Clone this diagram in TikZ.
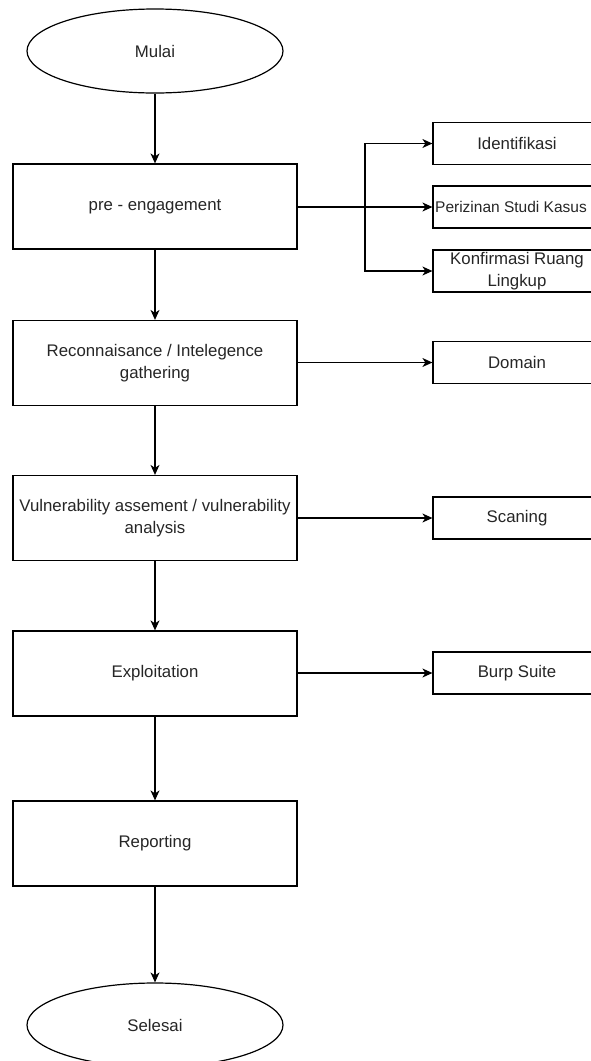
\documentclass[tikz,border=0pt]{standalone}
\usepackage{fontspec}
\setmainfont{Liberation Sans}
\usetikzlibrary{shapes.geometric,arrows.meta}
\tikzset{
  base/.style={draw=black, line width=1.2pt, text=black!85, font=\fontsize{16.8}{21.5}\selectfont, align=center, inner sep=0pt},
  procbox/.style={base, rectangle, minimum width=284pt, minimum height=85pt},
  sidebox/.style={base, rectangle, minimum width=168pt, minimum height=42pt},
  term/.style={base, ellipse, minimum width=256pt, minimum height=84pt},
  arr/.style={draw=black, line width=1.2pt, -{Stealth[length=10pt,width=9pt,inset=3pt]}},
  ln/.style={draw=black, line width=1.2pt}
}
\begin{document}
\begin{tikzpicture}[x=1pt,y=-1pt]
\useasboundingbox (0,0) rectangle (591,1061);
\clip (0,0) rectangle (591,1061);
\fill[white] (0,0) rectangle (591,1061);

\node[term] (mulai) at (155,51) {Mulai};
\node[procbox] (pre) at (155,206.5) {pre - engagement};
\node[procbox] (recon) at (155,363) {Reconnaisance / Intelegence\\gathering};
\node[procbox] (vuln) at (155,518) {Vulnerability assement / vulnerability\\analysis};
\node[procbox] (expl) at (155,673.5) {Exploitation};
\node[procbox] (rep) at (155,843.5) {Reporting};
\node[term] (selesai) at (155,1025) {Selesai};

\node[sidebox] (ident) at (517,143.5) {Identifikasi};
\node[sidebox, font=\fontsize{15.5}{20}\selectfont] (periz) at (517,207) {Perizinan Studi Kasus\hspace*{12pt}};
\node[sidebox] (konf) at (517,271) {Konfirmasi Ruang\\Lingkup};
\node[sidebox] (domain) at (517,362.5) {Domain};
\node[sidebox] (scan) at (517,518) {Scaning};
\node[sidebox] (burp) at (517,673) {Burp Suite};

\draw[arr] (mulai) -- (pre);
\draw[arr] (pre) -- (recon);
\draw[arr] (recon) -- (vuln);
\draw[arr] (vuln) -- (expl);
\draw[arr] (expl) -- (rep);
\draw[arr] (rep) -- (selesai);

\coordinate (br) at (365,207);
\draw[arr] (pre.east |- periz.west) -- (periz.west);
\draw[arr] (br) |- (ident.west);
\draw[arr] (br) |- (konf.west);
\draw[arr] (recon.east |- domain.west) -- (domain.west);
\draw[arr] (vuln.east |- scan.west) -- (scan.west);
\draw[arr] (expl.east |- burp.west) -- (burp.west);
\end{tikzpicture}
\end{document}
